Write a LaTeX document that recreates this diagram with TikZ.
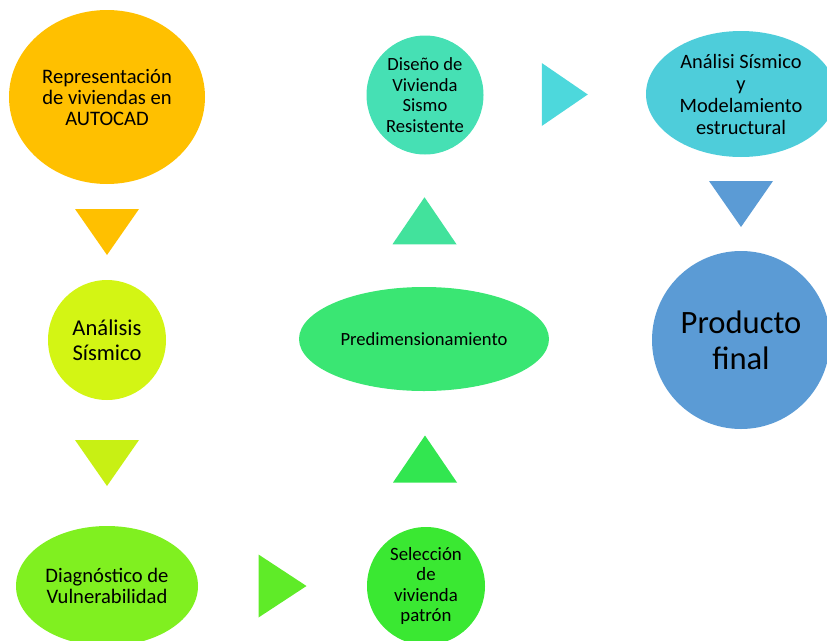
\documentclass[tikz,border=0pt]{standalone}
\usepackage{fontspec}
\setmainfont{Carlito}
\usetikzlibrary{shapes.geometric,calc}

\definecolor{naranja}{HTML}{FFC000}
\definecolor{limaA}{HTML}{D3F514}
\definecolor{limaB}{HTML}{C8F014}
\definecolor{verdeA}{HTML}{80F020}
\definecolor{verdeB}{HTML}{5FEB28}
\definecolor{verdeC}{HTML}{3AE832}
\definecolor{verdeD}{HTML}{32E650}
\definecolor{verdeE}{HTML}{3AE673}
\definecolor{turqA}{HTML}{42E29C}
\definecolor{turqB}{HTML}{46E0B4}
\definecolor{cianA}{HTML}{4DD8DC}
\definecolor{cianB}{HTML}{4ECDDA}
\definecolor{azul}{HTML}{5B9BD5}

\begin{document}
\begin{tikzpicture}[x=1pt,y=-1pt,
    bub/.style={ellipse,inner sep=0pt,align=center,text=black}]
            \useasboundingbox (0,0) rectangle (827,640);
            \node[bub,fill=naranja,minimum width=196pt,minimum height=174pt,font=\fontsize{20.6}{21}\selectfont] (repr) at (107,97) {Representación\\de viviendas en\\AUTOCAD};
            \node[bub,fill=limaA,minimum width=118pt,minimum height=120pt,font=\fontsize{22.6}{25}\selectfont] (anal) at (107,340) {Análisis\\Sísmico};
            \node[bub,fill=verdeA,minimum width=182pt,minimum height=120pt,font=\fontsize{20.6}{21}\selectfont] (diag) at (107,586) {Diagnóstico de\\Vulnerabilidad};
            \node[bub,fill=verdeC,minimum width=118pt,minimum height=118pt,font=\fontsize{18.8}{20.6}\selectfont] (selec) at (426,586) {Selección\\de\\vivienda\\patrón};
            \node[bub,fill=verdeE,minimum width=250pt,minimum height=104pt,font=\fontsize{18.6}{21}\selectfont] (predim) at (424,339) {Predimensionamiento};
            \node[bub,fill=turqB,minimum width=117pt,minimum height=119pt,font=\fontsize{18.6}{20.7}\selectfont] (disenio) at (425,95) {Diseño de\\Vivienda\\Sismo\\Resistente};
            \node[bub,fill=cianB,minimum width=190pt,minimum height=126pt,font=\fontsize{20.4}{22}\selectfont] (modelo) at (741,94) {Análisi Sísmico\\y\\Modelamiento\\estructural};
            \node[bub,fill=azul,minimum width=178pt,minimum height=178pt,font=\fontsize{32.6}{36}\selectfont] (producto) at (741,340) {Producto\\final};

            \fill[naranja] ($(repr.south)!.5!(anal.north)$) +(-32,-23) -- +(32,-23) -- +(0,23) -- cycle;
            \fill[limaB] ($(anal.south)!.5!(diag.north)$) +(-32,-23) -- +(32,-23) -- +(0,23) -- cycle;
            \fill[verdeB] ($(diag.east)!.5!(selec.west)$) +(-24,-31.5) -- +(-24,31.5) -- +(24,0) -- cycle;
            \fill[verdeD] ($(selec.north)!.5!(predim.south)$) +(-32,23.5) -- +(32,23.5) -- +(0,-23.5) -- cycle;
            \fill[turqA] ($(predim.north)!.5!(disenio.south)$) +(-32,23.5) -- +(32,23.5) -- +(0,-23.5) -- cycle;
            \fill[cianA] ($(disenio.east)!.5!(modelo.west)$) +(-23,-31.5) -- +(-23,31.5) -- +(23,0) -- cycle;
            \fill[azul] ($(modelo.south)!.5!(producto.north)$) +(-32,-23) -- +(32,-23) -- +(0,23) -- cycle;
\end{tikzpicture}
\end{document}
